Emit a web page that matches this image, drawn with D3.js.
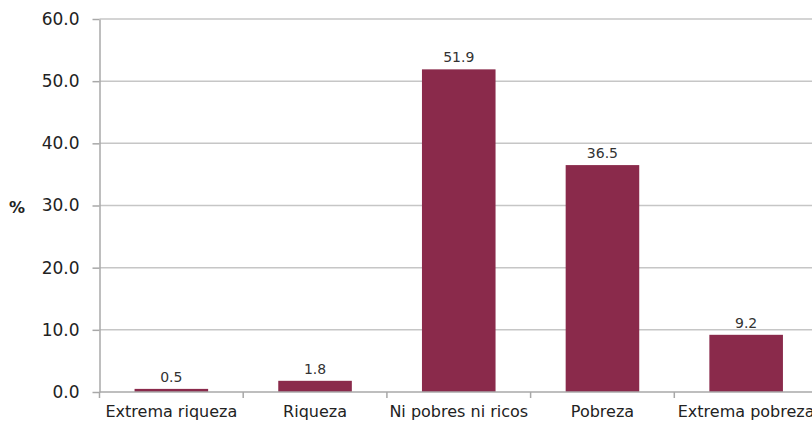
<!DOCTYPE html>
<html>
<head>
<meta charset="utf-8">
<script src="https://cdn.jsdelivr.net/npm/d3@7"></script>
<style>
  body { margin: 0; background: #fff; }
  svg { display: block; }
</style>
</head>
<body>
<svg width="812" height="423"></svg>
<script>
// data
var categories = ["Extrema riqueza", "Riqueza", "Ni pobres ni ricos", "Pobreza", "Extrema pobreza"];
var values = [0.5, 1.8, 51.9, 36.5, 9.2];
var yTicks = [0, 10, 20, 30, 40, 50, 60];

var svg = d3.select("svg"),
    margin = {top: 19, right: -6, bottom: 31, left: 99.5},
    width = +svg.attr("width") - margin.left - margin.right,
    height = +svg.attr("height") - margin.top - margin.bottom;

var g = svg.append("g")
    .attr("transform", "translate(" + margin.left + "," + margin.top + ")");

var x = d3.scaleBand().domain(categories).range([0, width]).paddingInner(0.488).paddingOuter(0.244);
var y = d3.scaleLinear().domain([0, 60]).range([height, 0]);

// gridlines
g.selectAll(".grid")
  .data(yTicks.filter(function(d) { return d > 0; }))
  .enter().append("line")
    .attr("x1", 0).attr("x2", width)
    .attr("y1", function(d) { return y(d); })
    .attr("y2", function(d) { return y(d); })
    .attr("stroke", "#c6c6c6")
    .attr("stroke-width", 1.5);

// y axis
var yAxisG = g.append("g")
    .call(d3.axisLeft(y).tickValues(yTicks).tickFormat(d3.format(".1f")).tickSize(7).tickSizeOuter(0));
yAxisG.select(".domain").attr("stroke", "#a8a8a8").attr("stroke-width", 1.5);
yAxisG.selectAll(".tick line").attr("stroke", "#a8a8a8").attr("stroke-width", 1.5);
yAxisG.selectAll(".tick text")
    .attr("x", -20)
    .attr("fill", "#222")
    .style("font-family", "'DejaVu Sans', Verdana, sans-serif")
    .style("font-size", "17px");

// bars
g.selectAll(".bar")
  .data(values)
  .enter().append("rect")
    .attr("x", function(d, i) { return x(categories[i]); })
    .attr("width", x.bandwidth())
    .attr("y", function(d) { return y(d); })
    .attr("height", function(d) { return height - y(d); })
    .attr("fill", "#8a2a4b");

// value labels
g.selectAll(".val")
  .data(values)
  .enter().append("text")
    .attr("x", function(d, i) { return x(categories[i]) + x.bandwidth() / 2; })
    .attr("y", function(d) { return y(d) - 7; })
    .attr("text-anchor", "middle")
    .attr("fill", "#333")
    .style("font-family", "'DejaVu Sans', sans-serif")
    .style("font-size", "14px")
    .text(function(d) { return d.toFixed(1); });

// x axis, ticks at band boundaries
var bounds = categories.map(function(c) { return x(c) - x.step() * x.paddingInner() / 2; });
var xAxisG = g.append("g").attr("transform", "translate(0," + height + ")");
xAxisG.append("line")
    .attr("x1", 0).attr("x2", width)
    .attr("stroke", "#a8a8a8").attr("stroke-width", 1.5);
xAxisG.selectAll(".xt")
  .data(bounds)
  .enter().append("line")
    .attr("x1", function(d) { return d; }).attr("x2", function(d) { return d; })
    .attr("y1", 0).attr("y2", 6)
    .attr("stroke", "#a8a8a8").attr("stroke-width", 1.5);
xAxisG.selectAll(".xl")
  .data(categories)
  .enter().append("text")
    .attr("x", function(d) { return x(d) + x.bandwidth() / 2; })
    .attr("y", 25)
    .attr("text-anchor", "middle")
    .attr("fill", "#222")
    .style("font-family", "'DejaVu Sans', sans-serif")
    .style("font-size", "16px")
    .text(function(d) { return d; });

// y axis title
svg.append("text")
    .attr("x", 17).attr("y", y(30) + margin.top + 7)
    .attr("text-anchor", "middle")
    .attr("fill", "#222")
    .style("font-family", "'DejaVu Sans', sans-serif")
    .style("font-size", "16px")
    .style("font-weight", "bold")
    .text("%");
</script>
</body>
</html>
